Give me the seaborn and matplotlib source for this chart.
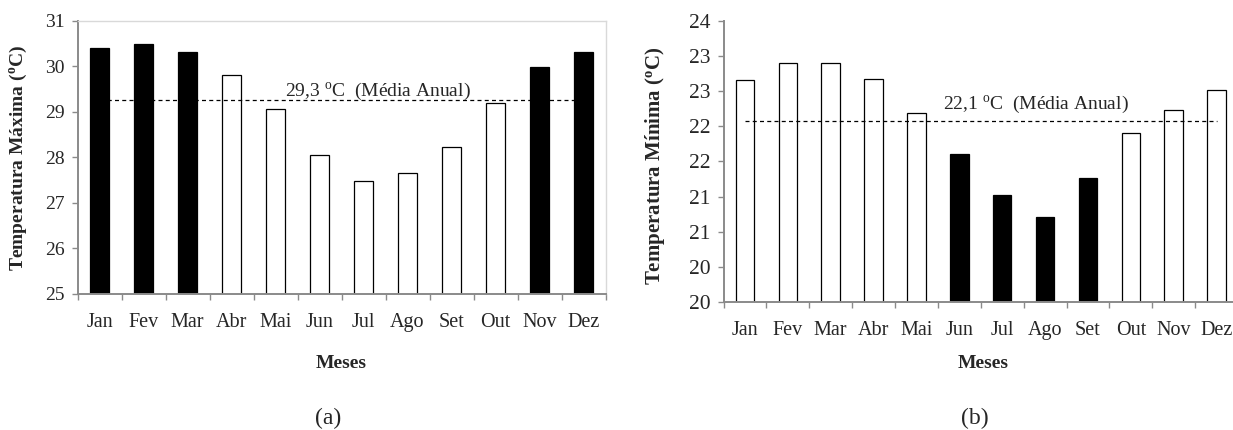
import numpy as np
import pandas as pd
import matplotlib
matplotlib.use("Agg")
import matplotlib.pyplot as plt
import seaborn as sns

# ---------------- data ----------------
months = ["Jan", "Fev", "Mar", "Abr", "Mai", "Jun", "Jul", "Ago", "Set", "Out", "Nov", "Dez"]
tmax = [30.39, 30.48, 30.31, 29.81, 29.07, 28.06, 27.47, 27.66, 28.22, 29.20, 29.98, 30.31]
tmin = [23.16, 23.40, 23.40, 23.17, 22.69, 22.11, 21.52, 21.21, 21.77, 22.40, 22.73, 23.02]
hot_months = ["Jan", "Fev", "Mar", "Nov", "Dez"]
cold_months = ["Jun", "Jul", "Ago", "Set"]
mean_max = 29.26
mean_min = 22.57
mean_max_label = "29,3"
mean_min_label = "22,1"
ymax_ticks = [25, 26, 27, 28, 29, 30, 31]
ymin_ticks = [20, 20.5, 21, 21.5, 22, 22.5, 23, 23.5, 24]
ymin_ticklabels = ["20", "20", "21", "21", "22", "22", "23", "23", "24"]

# ---------------- style ----------------
sns.set_theme(style="white")
plt.rcParams["font.family"] = ["Liberation Serif", "DejaVu Serif"]
plt.rcParams["mathtext.fontset"] = "custom"
plt.rcParams["mathtext.rm"] = "Liberation Serif"
plt.rcParams["mathtext.it"] = "Liberation Serif:italic"
plt.rcParams["mathtext.bf"] = "Liberation Serif:bold"

W, H = 1233, 430
fig = plt.figure(figsize=(W / 100, H / 100), dpi=100)

def ax_rect(x0, x1, ytop, ybot):
    return [x0 / W, 1 - ybot / H, (x1 - x0) / W, (ybot - ytop) / H]

ax1 = fig.add_axes(ax_rect(77.5, 605.5, 20.7, 294))
ax2 = fig.add_axes(ax_rect(723.5, 1238, 20.7, 302))

axis_gray = "#8a8a8a"

def draw(ax, values, dark, ylim, yticks, yticklabels, ytick_fs, mean, mean_label,
         ylabel, ylabel_fs, ylabel_xy, mean_xy, xlabel_xy, box):
    df = pd.DataFrame({"mes": months, "temp": values})
    pal = {m: ("black" if m in dark else "white") for m in months}
    sns.barplot(data=df, x="mes", y="temp", hue="mes", palette=pal, legend=False,
                width=0.43, edgecolor="black", linewidth=0.9, saturation=1, ax=ax,
                zorder=2)
    ax.set_ylim(*ylim)
    ax.set_xlim(-0.5, len(months) - 0.5)
    ax.set_yticks(yticks)
    ax.set_yticklabels(yticklabels, fontsize=ytick_fs)
    # ticks at category boundaries, labels at centers
    ax.set_xticks(np.arange(-0.5, len(months), 1.0))
    ax.set_xticklabels([])
    ax.set_xticks(np.arange(len(months)), minor=True)
    ax.set_xticklabels(months, minor=True, fontsize=14.5)
    ax.tick_params(axis="x", which="major", direction="out", length=4, width=1,
                   color=axis_gray, bottom=True)
    ax.tick_params(axis="x", which="minor", length=0, pad=14, bottom=True)
    ax.tick_params(axis="y", direction="out", length=4.3, width=1, color=axis_gray,
                   left=True, pad=5)
    for s in ["left", "bottom"]:
        ax.spines[s].set_color(axis_gray)
        ax.spines[s].set_linewidth(1.4)
    if box:
        for s in ["top", "right"]:
            ax.spines[s].set_color("#d9d9d9")
            ax.spines[s].set_linewidth(1.0)
    else:
        for s in ["top", "right"]:
            ax.spines[s].set_visible(False)
    ax.hlines(mean, 0, len(months) - 1, colors="black", linewidth=0.9,
              linestyles=(0, (3.2, 2.6)), zorder=5)
    ax.text(mean_xy[0], mean_xy[1], mean_label + r" $^{\mathrm{o}}$C  (Média Anual)",
            transform=ax.transAxes, ha="center", va="center", fontsize=14)
    ax.set_xlabel("Meses", fontsize=14, fontweight="bold", va="center")
    ax.xaxis.set_label_coords(*xlabel_xy)
    ax.set_ylabel(ylabel, fontsize=ylabel_fs, fontweight="bold", va="center")
    ax.yaxis.set_label_coords(*ylabel_xy)

draw(ax1, tmax, hot_months, (25, 31), ymax_ticks, [str(t) for t in ymax_ticks], 14,
     mean_max, mean_max_label, r"Temperatura Máxima ($^{\mathbf{o}}$C)", 14,
     (-0.111, 0.498), (0.569, 0.743), (0.5, -0.2525), True)
draw(ax2, tmin, cold_months, (20, 24), ymin_ticks, ymin_ticklabels, 15.5,
     mean_min, mean_min_label, r"Temperatura Mínima ($^{\mathbf{o}}$C)", 15,
     (-0.134, 0.483), (0.608, 0.704), (0.504, -0.217), False)

fig.text(328 / W, 1 - 418 / H, "(a)", ha="center", va="center", fontsize=17)
fig.text(975 / W, 1 - 418 / H, "(b)", ha="center", va="center", fontsize=17)

fig.savefig("out.png", dpi=100, facecolor="white")
